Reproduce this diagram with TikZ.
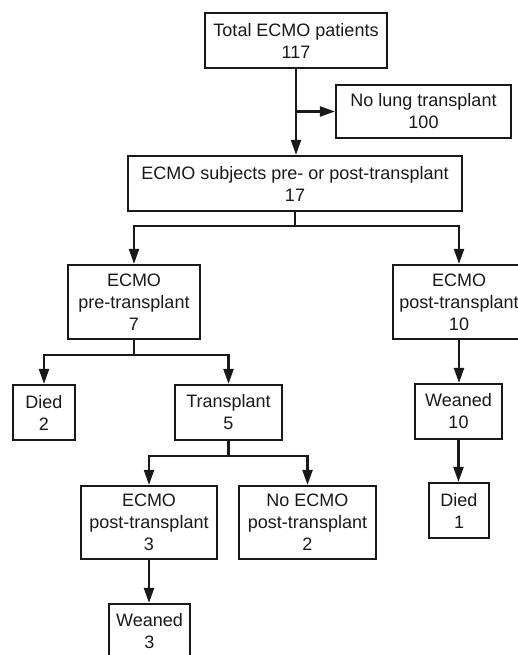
\documentclass[tikz,border=0pt]{standalone}
\usepackage{fontspec}
\setmainfont{Liberation Sans}
\usetikzlibrary{arrows.meta}
\begin{document}
\begin{tikzpicture}[x=1pt,y=-1pt,
  box/.style={draw=black!90, line width=2.2pt, align=center, inner sep=0pt,
    font=\fontsize{18}{22}\selectfont, text=black!90},
  arr/.style={draw=black!90, line width=2.2pt, -{Triangle[length=15pt,width=10pt]}},
  ln/.style={draw=black!90, line width=2.2pt}]
\useasboundingbox (0,0) rectangle (518,655);
\clip (0,0) rectangle (518,655);
\fill[white] (0,0) rectangle (518,655);
\node[box, minimum width=182pt, minimum height=55pt] (total) at (296,40.5) {Total ECMO patients\\117};
\node[box, minimum width=175pt, minimum height=53pt] (nolung) at (423.5,111.5) {No lung transplant\\100};
\node[box, minimum width=334pt, minimum height=55pt] (subj) at (295,183.5) {ECMO subjects pre- or post-transplant\\17};
\node[box, minimum width=132pt, minimum height=74pt] (pre) at (134,302) {ECMO\\pre-transplant\\7};
\node[box, minimum width=132pt, minimum height=74pt] (post) at (459,302) {ECMO\\post-transplant\\10};
\node[box, minimum width=62pt, minimum height=55pt] (died2) at (44,412.5) {Died\\2};
\node[box, minimum width=107pt, minimum height=55pt] (tx) at (228.5,412.5) {Transplant\\5};
\node[box, minimum width=87pt, minimum height=55pt] (wean10) at (458.5,411.5) {Weaned\\10};
\node[box, minimum width=60pt, minimum height=55pt] (died1) at (459,510.5) {Died\\1};
\node[box, minimum width=136pt, minimum height=73pt] (ecmo3) at (149,522.5) {ECMO\\post-transplant\\3};
\node[box, minimum width=137pt, minimum height=73pt] (noecmo) at (307.5,522.5) {No ECMO\\post-transplant\\2};
\node[box, minimum width=81pt, minimum height=55pt] (wean3) at (149.5,631.5) {Weaned\\3};
% connectors
\draw[arr] (total.south) -- (total.south |- subj.north);
\draw[arr] (total.south |- nolung.west) -- (nolung.west);
\draw[ln] (subj.south) -- ++(0,14) coordinate (s1);
\draw[arr] (s1) -| (pre.north);
\draw[arr] (s1) -| (post.north);
\draw[ln] (pre.south) -- ++(0,15) coordinate (p1);
\draw[arr] (p1) -| (died2.north);
\draw[arr] (p1) -| (tx.north);
\draw[arr] (post.south) -- (post.south |- wean10.north);
\draw[arr] (wean10.south) -- (wean10.south |- died1.north);
\draw[ln] (tx.south) -- ++(0,15) coordinate (t1);
\draw[arr] (t1) -| (ecmo3.north);
\draw[arr] (t1) -| (noecmo.north);
\draw[arr] (ecmo3.south) -- (ecmo3.south |- wean3.north);
\end{tikzpicture}
\end{document}
